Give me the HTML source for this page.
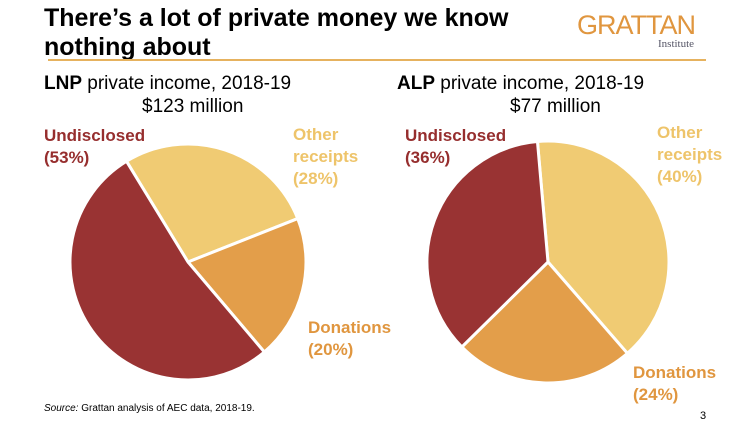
<!DOCTYPE html>
<html><head><meta charset="utf-8"><style>
body{margin:0;background:#fff;font-family:"Liberation Sans",Arial,sans-serif}
#c{position:relative;width:754px;height:424px;overflow:hidden}
.t{position:absolute;white-space:nowrap}
.lab{font-weight:bold;font-size:17px;line-height:22px}
</style></head><body>
<div id="c">
<div class="t" style="left:44px;top:4px;font-size:25px;font-weight:bold;line-height:29px;color:#000">There’s a lot of private money we know<br>nothing about</div>
<div class="t" style="left:577px;top:10px;font-size:27px;color:#E0963F;letter-spacing:-1px">GRATTAN</div>
<div class="t" style="left:658px;top:38px;font-size:11px;color:#556;font-family:'Liberation Serif',serif">Institute</div>
<div style="position:absolute;left:48px;top:59px;width:658px;height:2px;background:#E6B25E"></div>
<div class="t" style="left:44px;top:72px;font-size:19px;line-height:23px"><b>LNP</b> private income, 2018-19</div>
<div class="t" style="left:142px;top:95px;font-size:19px;line-height:23px">$123 million</div>
<div class="t" style="left:397px;top:72px;font-size:19px;line-height:23px"><b>ALP</b> private income, 2018-19</div>
<div class="t" style="left:510px;top:95px;font-size:19px;line-height:23px">$77 million</div>
<svg id="svg" width="754" height="424" style="position:absolute;left:0;top:0"></svg>
<div class="t lab" style="left:44px;top:125px;color:#962E2E">Undisclosed<br>(53%)</div>
<div class="t lab" style="left:293px;top:124px;color:#EEC46A">Other<br>receipts<br>(28%)</div>
<div class="t lab" style="left:308px;top:317px;color:#E0963F">Donations<br>(20%)</div>
<div class="t lab" style="left:405px;top:125px;color:#962E2E">Undisclosed<br>(36%)</div>
<div class="t lab" style="left:657px;top:122px;color:#EEC46A">Other<br>receipts<br>(40%)</div>
<div class="t lab" style="left:633px;top:362px;color:#E0963F">Donations<br>(24%)</div>
<div class="t" style="left:44px;top:403px;font-size:10px"><i>Source:</i> Grattan analysis of AEC data, 2018-19.</div>
<div class="t" style="left:700px;top:410px;font-size:11px">3</div>
</div>
<script>
const categories=["Other receipts","Donations","Undisclosed"];
const lnpValues=[28,20,53];
const alpValues=[40,24,36];
const colors=["#F0CB73","#E39E4A","#993333"];
const ns="http://www.w3.org/2000/svg";
const svg=document.getElementById('svg');
function pie(vals,cx,cy,r,start,name){
  const tot=vals.reduce((a,b)=>a+b,0);
  let a=start;
  vals.forEach((v,i)=>{
    const b=a+v/tot*360;
    const p=d=>[cx+r*Math.sin(d*Math.PI/180),cy-r*Math.cos(d*Math.PI/180)];
    const [x1,y1]=p(a),[x2,y2]=p(b);
    const path=document.createElementNS(ns,'path');
    path.setAttribute('d',`M${cx},${cy}L${x1},${y1}A${r},${r} 0 ${b-a>180?1:0} 1 ${x2},${y2}Z`);
    path.setAttribute('fill',colors[i]);
    path.setAttribute('stroke','#fff');
    path.setAttribute('stroke-width','3');
    
    
    svg.appendChild(path);
    a=b;
  });
}
pie(lnpValues,188,262,118,-31.4,'lnp');
pie(alpValues,548,262,121,-5,'alp');
</script>
</body></html>
